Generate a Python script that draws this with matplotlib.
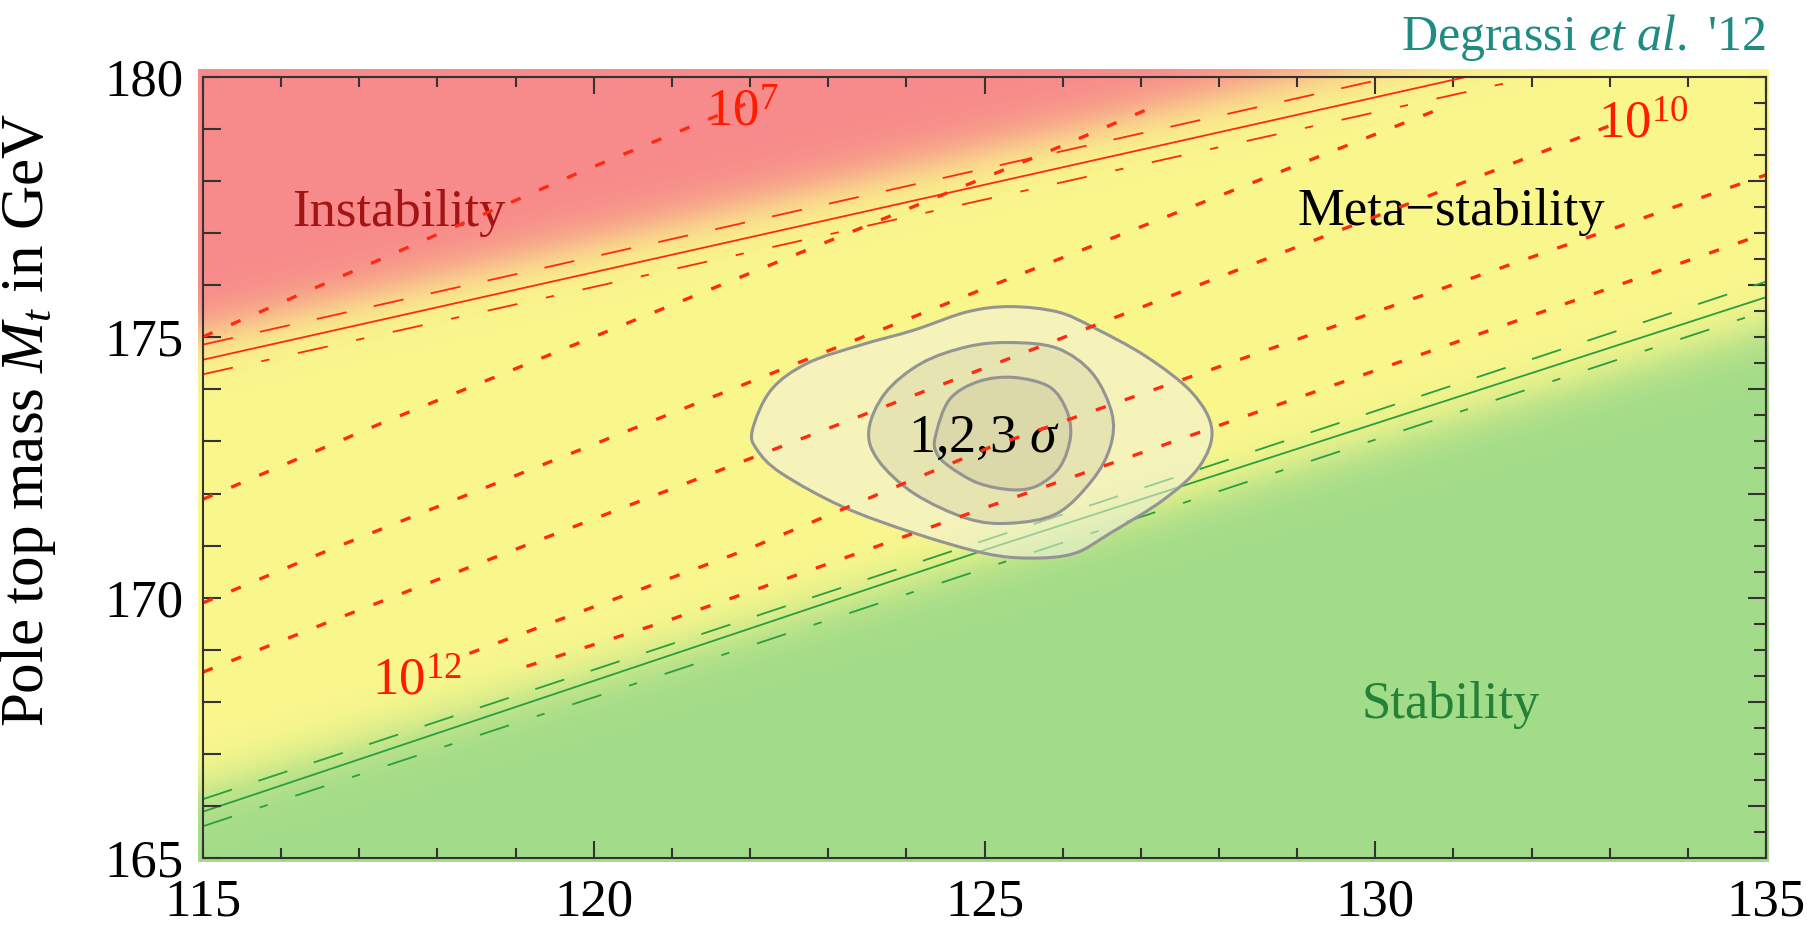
import numpy as np
import matplotlib
matplotlib.use("Agg")
import matplotlib.pyplot as plt
from matplotlib.path import Path
from matplotlib.patches import PathPatch
from matplotlib.ticker import MultipleLocator

plt.rcParams['font.family'] = ['Liberation Serif', 'DejaVu Serif']
plt.rcParams['mathtext.fontset'] = 'custom'
plt.rcParams['mathtext.rm'] = 'Liberation Serif'
plt.rcParams['mathtext.it'] = 'Liberation Serif:italic'
plt.rcParams['mathtext.bf'] = 'Liberation Serif:bold'
plt.rcParams['lines.scale_dashes'] = False

# ---------------- data ----------------
x_lim = [115, 135]
y_lim = [165, 180]

# straight boundary lines: values at x = 115 and x = 135
bound_x = [115, 135]
instab_central = [174.57, 181.29]
instab_upper = [174.86, 181.62]
instab_lower = [174.29, 181.00]
stab_central_x = [115, 125.07, 135]
stab_central = [165.89, 170.95, 175.77]
stab_upper = [166.13, 176.07]
stab_lower = [165.61, 175.51]

# centres of the colour transitions (at x = 115 and 135)
red_edge = [175.10, 182.10]
green_edge = [166.30, 175.20]

# dotted instability-scale contours
dot_lines = [
    ([115.00, 119.79, 121.94], [175.01, 178.15, 179.48]),
    ([115.00, 117.22, 125.71, 127.12], [171.89, 173.31, 178.50, 179.40]),
    ([115.00, 116.62, 125.07, 130.83], [169.90, 170.92, 175.98, 179.39]),
    ([115.00, 116.67, 119.86, 125.07, 133.08], [168.57, 169.57, 171.43, 174.45, 179.11]),
    ([118.41, 121.97, 125.07, 135.00], [168.93, 170.93, 172.89, 178.12]),
    ([119.14, 120.91, 121.97, 125.07, 135.00], [168.68, 169.54, 170.10, 171.76, 177.00]),
]

# 1,2,3 sigma contours
outer_x = [122.03, 122.27, 122.73, 123.41, 124.10, 124.78, 125.33, 125.93, 126.38, 127.07, 127.66,
           127.91, 127.75, 127.29, 126.61, 126.15, 125.60, 125.01, 124.10, 123.18, 122.40, 122.09]
outer_y = [173.22, 173.99, 174.50, 174.85, 175.14, 175.49, 175.59, 175.49, 175.20, 174.63, 173.93,
           173.22, 172.52, 171.88, 171.24, 170.85, 170.76, 170.85, 171.24, 171.75, 172.39, 172.84]
middle_x = [123.52, 123.73, 124.19, 124.78, 125.33, 125.93, 126.38, 126.63, 126.61, 126.38, 125.93,
            125.33, 124.78, 124.10, 123.64]
middle_y = [173.22, 173.93, 174.50, 174.82, 174.90, 174.79, 174.31, 173.54, 172.90, 172.26, 171.62,
            171.43, 171.52, 172.00, 172.64]
inner_x = [124.37, 124.55, 124.92, 125.37, 125.83, 126.05, 126.10, 125.97, 125.69, 125.37, 124.92,
           124.55, 124.39]
inner_y = [173.09, 173.80, 174.15, 174.23, 174.05, 173.60, 173.09, 172.52, 172.16, 172.07, 172.20,
           172.52, 172.77]

# ---------------- figure ----------------
fig = plt.figure(figsize=(18.07, 9.27), dpi=100)
ax = fig.add_axes([203 / 1807, 1 - 858 / 927, (1766 - 203) / 1807, (858 - 77) / 927])
ax.set_xlim(*x_lim)
ax.set_ylim(*y_lim)

# background colour field
red = np.array([247, 138, 138]) / 255
yellow = np.array([250, 247, 141]) / 255
green = np.array([163, 220, 136]) / 255
ext = [114.94, 135.04, 164.93, 180.15]
gx = np.linspace(ext[0], ext[1], 700)
gy = np.linspace(ext[2], ext[3], 500)
GX, GY = np.meshgrid(gx, gy)
yr = np.interp(GX, bound_x, red_edge)
yg = np.interp(GX, bound_x, green_edge)
s = 0.27
tr = 1 / (1 + np.exp(-(GY - yr) / s))
tg = 1 / (1 + np.exp(-(yg - GY) / s))
ty = np.clip(1 - tr - tg, 0, 1)
img = ty[..., None] * yellow + tr[..., None] * red + tg[..., None] * green
ax.imshow(img, extent=ext, origin='lower', aspect='auto', interpolation='bilinear',
          zorder=0, clip_on=False)

red_line = '#ff2a12'
green_line = '#2a9e40'
dash = (0, (22, 20))
dashdot = (0, (22, 21, 6, 21))

# green (stability) lines
ax.plot(stab_central_x, stab_central, color=green_line, lw=1.3, zorder=1)
ax.plot(bound_x, stab_upper, color=green_line, lw=1.3, ls=dash, zorder=1)
ax.plot(bound_x, stab_lower, color=green_line, lw=1.3, ls=dashdot, zorder=1)

# red (instability) lines
ax.plot(bound_x, instab_central, color=red_line, lw=1.3, zorder=3)
ax.plot(bound_x, instab_upper, color=red_line, lw=1.3, ls=dash, zorder=3)
ax.plot(bound_x, instab_lower, color=red_line, lw=1.3, ls=dashdot, zorder=3)


def smooth_closed_path(xs, ys):
    p = np.column_stack([xs, ys])
    n = len(p)
    verts = [p[0]]
    codes = [Path.MOVETO]
    for i in range(n):
        p0, p1, p2, p3 = p[i - 1], p[i], p[(i + 1) % n], p[(i + 2) % n]
        c1 = p1 + (p2 - p0) / 6
        c2 = p2 - (p3 - p1) / 6
        verts += [c1, c2, p2]
        codes += [Path.CURVE4] * 3
    return Path(np.array(verts), codes)


fills = [((0.95, 0.95, 0.88), 0.55), ((0.76, 0.75, 0.60), 0.28), ((0.76, 0.75, 0.60), 0.28)]
for (cx, cy), (fc, al) in zip([(outer_x, outer_y), (middle_x, middle_y), (inner_x, inner_y)], fills):
    pth = smooth_closed_path(cx, cy)
    ax.add_patch(PathPatch(pth, facecolor=fc, alpha=al, edgecolor='none', zorder=2))
    ax.add_patch(PathPatch(pth, facecolor='none', edgecolor=(0.58, 0.58, 0.58), lw=2.2, zorder=2.1))

# dotted contours
for lx, ly in dot_lines:
    ax.plot(lx, ly, color=red_line, lw=2.4, ls=(0, (7.5, 14.5)), dash_capstyle='butt', zorder=4)

# texts
fs = 38
ax.text(117.50, 177.14, 'Instability', color='#a31414', fontsize=fs, ha='center', va='baseline', zorder=3.5)
ax.text(130.97, 177.16, 'Meta\u2212stability', color='black', fontsize=fs, ha='center', va='baseline', zorder=3.5)
ax.text(130.97, 167.69, 'Stability', color='#238237', fontsize=fs, ha='center', va='baseline', zorder=3.5)
ax.text(125.0, 172.80, r'1,2,3 $\sigma$', color='black', fontsize=39, ha='center', va='baseline', zorder=3.5)
ax.text(121.90, 179.05, r'$10^{7}$', color='#ff1a00', fontsize=fs, ha='center', va='baseline', zorder=3.5)
ax.text(133.43, 178.83, r'$10^{10}$', color='#ff1a00', fontsize=fs, ha='center', va='baseline', zorder=3.5)
ax.text(117.74, 168.13, r'$10^{12}$', color='#ff1a00', fontsize=fs, ha='center', va='baseline', zorder=3.5)

fig.text(1766 / 1807, 1 - 50 / 927, r"Degrassi $\mathit{et\ al.}$ '12", color='#1f8c84',
         fontsize=36, ha='right', va='baseline')

# axes styling
spine_col = '#333333'
for sp in ax.spines.values():
    sp.set_color(spine_col)
    sp.set_linewidth(1.5)
    sp.set_zorder(5)

ax.set_xticks([115, 120, 125, 130, 135])
ax.set_yticks([165, 170, 175, 180])
ax.xaxis.set_minor_locator(MultipleLocator(1))
ax.yaxis.set_minor_locator(MultipleLocator(1))
ax.tick_params(axis='both', which='both', direction='in', color=spine_col, width=1.5,
               top=True, right=False, labelsize=38, labelcolor='black')
ax.tick_params(axis='x', which='major', length=12, pad=15)
ax.tick_params(axis='x', which='minor', length=7.5)
ax.tick_params(axis='y', which='major', length=13, pad=14)
ax.tick_params(axis='y', which='minor', length=13)

sec = ax.secondary_yaxis('right')
sec.yaxis.set_major_locator(MultipleLocator(2))
sec.yaxis.set_minor_locator(MultipleLocator(0.5))
sec.tick_params(which='both', direction='in', color=spine_col, width=1.5, labelright=False)
sec.tick_params(which='major', length=13)
sec.tick_params(which='minor', length=8.5)
sec.spines['right'].set_color(spine_col)
sec.spines['right'].set_linewidth(1.5)

ax.set_ylabel(r'Pole top mass $M_t$ in GeV', fontsize=44)
ax.yaxis.set_label_coords(-0.093, 0.561)

fig.savefig('out.png', dpi=100)
